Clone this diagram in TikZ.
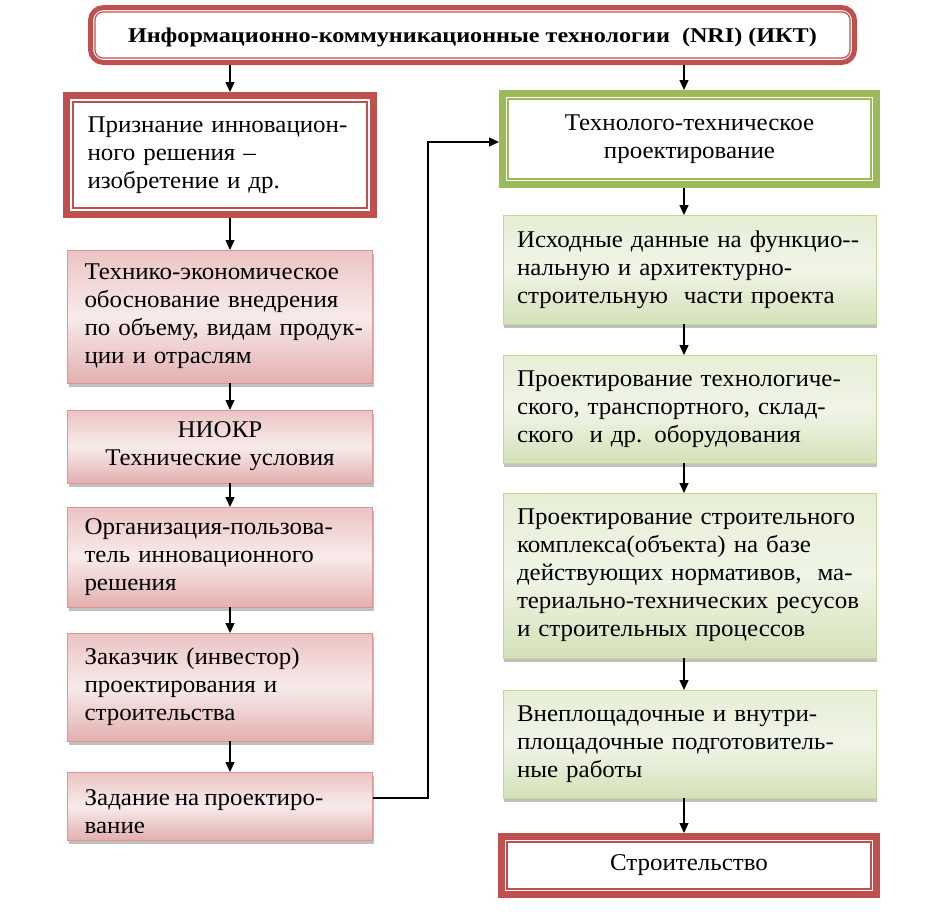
\documentclass[tikz,border=0pt]{standalone}
\usepackage{fontspec}
\setmainfont[FakeStretch=1.04,WordSpace=0.8]{Liberation Serif}
\newfontfamily\titlefont[FakeStretch=1.15]{Liberation Serif}
\usetikzlibrary{arrows.meta,shadows}
\definecolor{accred}{HTML}{C0504D}
\definecolor{accgreen}{HTML}{9BBB59}
\definecolor{pinkA}{HTML}{EBC3C2}
\definecolor{pinkB}{HTML}{F8EBEB}
\definecolor{pinkC}{HTML}{E2B0AF}
\definecolor{pinkD}{HTML}{D99694}
\definecolor{grA}{HTML}{E6EED5}
\definecolor{grB}{HTML}{F0F5E7}
\definecolor{grC}{HTML}{D4E1B8}
\definecolor{grD}{HTML}{C3D69B}
\tikzset{
  txt/.style={font=\fontsize{24}{28}\selectfont},
  shad/.style={drop shadow={shadow xshift=1pt, shadow yshift=-3.5pt, opacity=0.35, fill=black!70}},
  redthick/.style={draw=accred, line width=7pt, fill=white, txt},
  greenthick/.style={draw=accgreen, line width=7pt, fill=white, txt},
  pinkbox/.style={draw=pinkD, line width=0.8pt, top color=pinkA, bottom color=pinkC, middle color=pinkB, shad, txt, outer sep=0pt,
    minimum width=305pt, text width=271pt, inner xsep=17pt, align=left},
  greenbox/.style={draw=grD, line width=0.8pt, top color=grA, bottom color=grC, middle color=grB, shad, txt, outer sep=0pt,
    minimum width=373pt, text width=345pt, inner xsep=14pt, align=left},
  thinred/.style={draw=accred, line width=1.2pt},
  thingreen/.style={draw=accgreen, line width=1.2pt},
  arr/.style={draw=black, line width=1.3pt, -{Triangle[length=10pt,width=9pt]}},
}
\begin{document}
\begin{tikzpicture}[x=1pt,y=-1pt]
\useasboundingbox[fill=white] (0,0) rectangle (944,913);
\coordinate (lx) at (230,0);
\coordinate (rx) at (684,0);
% title
\node[draw=accred, line width=5pt, rounded corners=13pt, fill=white, minimum width=764pt, minimum height=55pt,
  drop shadow={shadow xshift=1pt, shadow yshift=-2pt, opacity=0.25, fill=black!70}, inner sep=0pt]
  (title) at (472.5,35) {};
\draw[thinred, rounded corners=8pt] ([shift={(7pt,-7pt)}]title.north west) rectangle ([shift={(-7pt,7pt)}]title.south east);
\node[font=\titlefont\fontsize{21}{26}\selectfont\bfseries] (titletext) at (472.5,37) {Информационно-коммуникационные технологии\ \ (NRI) (ИКТ)};
% left column
\node[redthick, minimum width=307pt, minimum height=119pt, text width=265pt, inner xsep=21pt, align=left] (b1) at (220,155)
  {\mbox{Признание инновацион-}\\ного решения --\\изобретение и др.};
\draw[thinred] ([shift={(10pt,-10pt)}]b1.north west) rectangle ([shift={(-10pt,10pt)}]b1.south east);
\node[pinkbox, minimum height=133pt] (b2) at (220,316.5)
  {\mbox{Технико-экономическое}\\\mbox{обоснование внедрения}\\\mbox{по объему, видам продук-}\\ции и отраслям};
\node[pinkbox, minimum height=73pt, align=center] (b3) at (220,446.5)
  {НИОКР\\\mbox{Технические условия}};
\node[pinkbox, minimum height=100pt] (b4) at (220,557)
  {\mbox{Организация-пользова-}\\\mbox{тель инновационного}\\решения};
\node[pinkbox, minimum height=108pt] (b5) at (220,687)
  {\mbox{Заказчик (инвестор)}\\\mbox{проектирования и}\\строительства};
\node[pinkbox, minimum height=68pt] (b6) at (220,806) {};
\begin{scope}
\clip (b6.north west) rectangle ([yshift=8pt]b6.south east);
\node[txt, anchor=north west, align=left, inner sep=0pt] (b6text) at ([shift={(17pt,-17pt)}]b6.north west)
  {Задание на проектиро-\\вание};
\end{scope}
% right column
\node[greenthick, minimum width=374pt, minimum height=91pt, align=center] (gt) at (689.5,139)
  {Технолого-техническое\\проектирование};
\draw[thingreen] ([shift={(9pt,-9pt)}]gt.north west) rectangle ([shift={(-9pt,9pt)}]gt.south east);
\node[greenbox, minimum height=109pt] (g1) at (689.5,269.5)
  {\mbox{Исходные данные на функцио-{}-}\\\mbox{нальную и архитектурно-}\\\mbox{строительную\ \ части проекта}};
\node[greenbox, minimum height=108pt] (g2) at (689.5,409)
  {\mbox{Проектирование технологиче-}\\\mbox{ского, транспортного, склад-}\\\mbox{ского\ \ и др. оборудования}};
\node[greenbox, minimum height=165pt] (g3) at (689.5,575.5)
  {\mbox{Проектирование строительного}\\\mbox{комплекса(объекта) на базе}\\\mbox{действующих нормативов,\ \ ма-}\\\mbox{териально-технических ресусов}\\\mbox{и строительных процессов}};
\node[greenbox, minimum height=108pt] (g4) at (689.5,744)
  {\mbox{Внеплощадочные и внутри-}\\\mbox{площадочные подготовитель-}\\ные работы};
\node[redthick, minimum width=375pt, minimum height=58pt] (fin) at (689,865.5) {Строительство};
\draw[thinred] ([shift={(9pt,-9pt)}]fin.north west) rectangle ([shift={(-9pt,9pt)}]fin.south east);
% arrows left
\draw[arr] (title.south -| lx) -- (b1.north -| lx);
\draw[arr] (b1.south -| lx) -- (b2.north -| lx);
\draw[arr] (b2.south -| lx) -- (b3.north -| lx);
\draw[arr] (b3.south -| lx) -- (b4.north -| lx);
\draw[arr] (b4.south -| lx) -- (b5.north -| lx);
\draw[arr] (b5.south -| lx) -- (b6.north -| lx);
% arrows right
\draw[arr] (title.south -| rx) -- (gt.north -| rx);
\draw[arr] (gt.south -| rx) -- (g1.north -| rx);
\draw[arr] (g1.south -| rx) -- (g2.north -| rx);
\draw[arr] (g2.south -| rx) -- (g3.north -| rx);
\draw[arr] (g3.south -| rx) -- (g4.north -| rx);
\draw[arr] (g4.south -| rx) -- (fin.north -| rx);
% connector
\coordinate (bend) at (428,798);
\draw[arr] ([yshift=8pt]b6.east) -- (bend) |- ([yshift=-3pt]gt.west);
\end{tikzpicture}
\end{document}
